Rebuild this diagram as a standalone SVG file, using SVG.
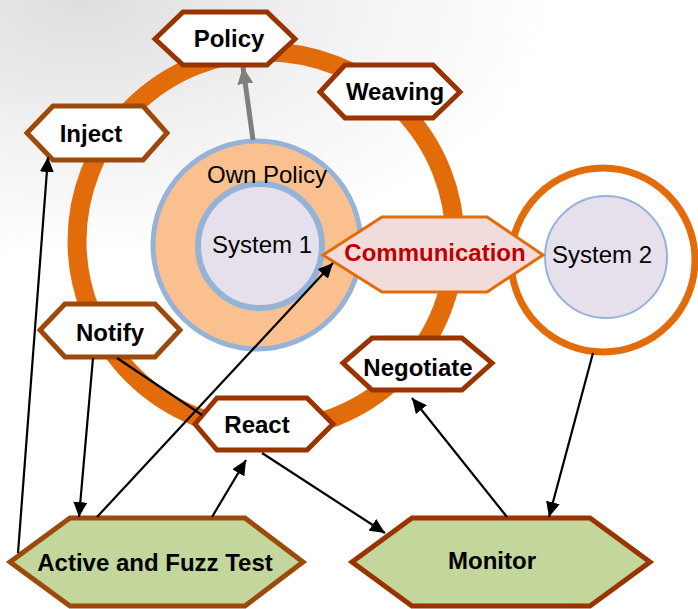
<svg xmlns="http://www.w3.org/2000/svg" width="698" height="609" viewBox="0 0 698 609">
  <defs>
    <radialGradient id="bg" cx="0" cy="0" r="1" gradientUnits="userSpaceOnUse" gradientTransform="translate(80 0) scale(470 260)">
      <stop offset="0" stop-color="#dedede"/>
      <stop offset="0.5" stop-color="#f0f0f0"/>
      <stop offset="1" stop-color="#ffffff"/>
    </radialGradient>
    <marker id="arrow" markerUnits="userSpaceOnUse" markerWidth="16" markerHeight="14" refX="15" refY="7" orient="auto">
      <path d="M0,0 L15,7 L0,14 Z" fill="#000"/>
    </marker>
    <marker id="arrowGrey" markerUnits="userSpaceOnUse" markerWidth="18" markerHeight="16" refX="17" refY="8" orient="auto">
      <path d="M0,0 L17,8 L0,16 Z" fill="#7f7f7f"/>
    </marker>
  </defs>
  <style>
    text { font-family: "Liberation Sans", Arial, sans-serif; font-size: 24px; text-anchor: middle; fill: #000; }
    .bold { font-weight: bold; }
    .hex { fill: #ffffff; stroke: #993300; stroke-width: 5; stroke-linejoin: miter; }
    .hex2 { fill: #ffffff; stroke: #9b4a0c; stroke-width: 5; stroke-linejoin: miter; }
    .green { fill: #c3d69b; }
    .conn { stroke: #000; stroke-width: 2.2; fill: none; }
    .arr { marker-end: url(#arrow); }
    .sys { fill: #e6e0ec; stroke: #95b3d7; }
  </style>

  <rect x="0" y="0" width="698" height="609" fill="url(#bg)"/>

  <!-- outer orange ring -->
  <circle id="ring" cx="266" cy="241" r="189" fill="none" stroke="#e36c0a" stroke-width="19"/>

  <!-- own policy, holding system 1 -->
  <g id="own-policy">
    <circle cx="257" cy="245" r="104" fill="#fac090" stroke="#95b3d7" stroke-width="5"/>
    <g id="system1">
      <circle class="sys" cx="260" cy="246" r="62" stroke-width="6"/>
      <text x="262" y="253">System 1</text>
    </g>
    <text x="267" y="183">Own Policy</text>
  </g>

  <!-- system 2 -->
  <g id="system2">
    <circle cx="603" cy="260" r="92" fill="#ffffff" stroke="#e36c0a" stroke-width="7"/>
    <circle class="sys" cx="606" cy="257" r="61" stroke-width="2"/>
    <text x="602" y="263">System 2</text>
  </g>

  <!-- grey arrow to policy -->
  <g id="connectors-grey">
    <line x1="253" y1="140" x2="243" y2="67" stroke="#7f7f7f" stroke-width="5" marker-end="url(#arrowGrey)"/>
  </g>

  <g id="communication">
    <polygon points="323,255 382,217 487,217 543,255 487,292 382,292" fill="#f2dcdb" stroke="#e36c0a" stroke-width="3"/>
    <text class="bold" x="435" y="261" style="fill:#c00000">Communication</text>
  </g>

  <g id="policy">
    <polygon class="hex" points="155,39 183,12 267,12 295,39 267,65 183,65"/>
    <text class="bold" x="229" y="47">Policy</text>
  </g>
  <g id="weaving">
    <polygon class="hex" points="320,92 345,65 433,65 460,92 433,118 345,118"/>
    <text class="bold" x="395" y="100">Weaving</text>
  </g>
  <g id="inject">
    <polygon class="hex2" points="27,133 53,106 143,106 167,133 143,160 53,160"/>
    <text class="bold" x="91" y="142">Inject</text>
  </g>
  <g id="notify">
    <polygon class="hex2" points="40,330 65,304 155,304 180,330 155,357 65,357"/>
    <text class="bold" x="110" y="341">Notify</text>
  </g>
  <g id="react">
    <polygon class="hex" points="195,424 217,398 307,398 333,424 307,450 217,450"/>
    <text class="bold" x="257" y="433">React</text>
  </g>
  <g id="negotiate">
    <polygon class="hex" points="343,363 372,338 462,338 492,363 462,390 372,390"/>
    <text class="bold" x="418" y="376">Negotiate</text>
  </g>
  <g id="active-fuzz-test">
    <polygon class="hex2 green" points="10,562 70,518 245,518 303,562 245,606 70,606"/>
    <text class="bold" x="155" y="571">Active and Fuzz Test</text>
  </g>
  <g id="monitor">
    <polygon class="hex green" points="352,562 412,518 590,518 650,562 590,606 412,606"/>
    <text class="bold" x="492" y="569">Monitor</text>
  </g>

  <!-- black connectors -->
  <g id="connectors">
    <line class="conn arr" x1="18" y1="553" x2="48" y2="157"/>
    <line class="conn arr" x1="93" y1="358" x2="79" y2="517"/>
    <line class="conn" x1="117" y1="358" x2="202" y2="415"/>
    <line class="conn arr" x1="97" y1="517" x2="333" y2="263"/>
    <line class="conn arr" x1="212" y1="517" x2="246" y2="460"/>
    <line class="conn arr" x1="262" y1="453" x2="385" y2="533"/>
    <line class="conn arr" x1="507" y1="517" x2="412" y2="398"/>
    <line class="conn arr" x1="593" y1="353" x2="549" y2="517"/>
  </g>
</svg>
